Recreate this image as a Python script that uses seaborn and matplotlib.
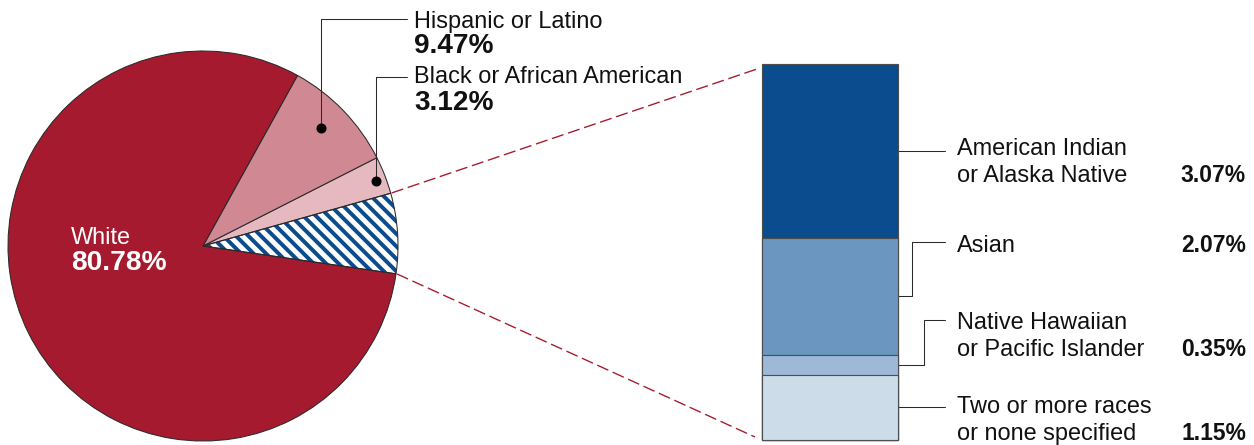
import matplotlib
matplotlib.use("Agg")
import matplotlib.pyplot as plt
from matplotlib.patches import Wedge
import numpy as np
import pandas as pd
import seaborn as sns

# ---------------- data ----------------
main_groups = ["White", "Hispanic or Latino", "Black or African American"]
main_values = [80.78, 9.47, 3.12]
other_groups = ["American Indian\nor Alaska Native", "Asian",
                "Native Hawaiian\nor Pacific Islander", "Two or more races\nor none specified"]
other_values = [3.07, 2.07, 0.35, 1.15]

# ---------------- style ----------------
sns.set_style("white")
plt.rcParams["font.family"] = ["Liberation Sans", "DejaVu Sans"]
plt.rcParams["hatch.linewidth"] = 3.8

W, H, DPI = 1254, 445, 75
CRIMSON = "#A51A2E"
pie_colors = ["#FFFFFF", "#E6B9C0", "#D08893", CRIMSON]   # others, black, hispanic, white
bar_colors = ["#0A4C8E", "#6A96C0", "#9DB9D6", "#CCDCE9"]
HATCH_BLUE = "#0A4C8E"
TXT = "#111111"
LINE = "#2a2a2a"

def Y(py):
    return H - py

fig = plt.figure(figsize=(W / DPI, H / DPI), dpi=DPI)
ax = fig.add_axes([0, 0, 1, 1])

# ---------------- pie ----------------
others_total = sum(other_values)
pie_vals = [others_total, main_values[2], main_values[1], main_values[0]]
cx, cy, R = 203, Y(246), 195
wedges, _ = ax.pie(pie_vals, colors=pie_colors, startangle=-8.2, counterclock=True,
                   center=(cx, cy), radius=R, frame=True,
                   wedgeprops=dict(edgecolor=LINE, linewidth=1.0))
ax.set_xlim(0, W)
ax.set_ylim(0, H)
ax.axis("off")

w0 = wedges[0]
w0.set_facecolor("white")
w0.set_edgecolor(HATCH_BLUE)
w0.set_linewidth(0)
w0.set_hatch("\\\\")
ax.add_patch(Wedge(w0.center, w0.r, w0.theta1, w0.theta2, fill=False,
                   edgecolor=LINE, linewidth=1.0, zorder=3))

# dashed connectors from the hatched slice to the bar
for th, end in [(w0.theta2, (757, Y(69))), (w0.theta1, (755, Y(437)))]:
    t = np.deg2rad(th)
    sx, sy = cx + (R + 1) * np.cos(t), cy + (R + 1) * np.sin(t)
    ax.plot([sx, end[0]], [sy, end[1]], color=CRIMSON, lw=1.3,
            ls=(0, (9, 3.5)), solid_capstyle="butt")

# pie labels
ax.text(71, Y(244), main_groups[0], color="white", fontsize=22.6, va="baseline")
ax.text(71, Y(270), f"{main_values[0]:.2f}%", color="white", fontsize=27,
        fontweight="bold", va="baseline")

left_leaders = [  # dot x, dot y, line y, label baseline, pct baseline
    (321, 128, 19, 28, 53),
    (376, 181, 77, 83, 110),
]
for (dx, dy, ly, lb, pb), name, val in zip(left_leaders, main_groups[1:], main_values[1:]):
    ax.plot([dx, dx, 407], [Y(dy), Y(ly), Y(ly)], color=LINE, lw=1.0)
    ax.plot([dx], [Y(dy)], "o", ms=8.6, color="black")
    ax.text(414, Y(lb), name, color=TXT, fontsize=22.6, va="baseline")
    ax.text(414, Y(pb), f"{val:.2f}%", color=TXT, fontsize=26.9,
            fontweight="bold", va="baseline")

# ---------------- stacked bar ----------------
bx0, bx1, btop, bbot = 762, 898, 64, 440
ax2 = fig.add_axes([bx0 / W, (H - bbot) / H, (bx1 - bx0) / W, (bbot - btop) / H])
tops = [sum(other_values[i:]) for i in range(len(other_values))]
df = pd.DataFrame({"group": other_groups, "top": tops, "pos": ["bar"] * len(tops)})
sns.barplot(data=df, x="pos", y="top", hue="group", hue_order=other_groups,
            palette=bar_colors, dodge=False, width=1, saturation=1,
            edgecolor="#4d4d4d", linewidth=1.1, legend=False, ax=ax2)
ax2.set_xlim(-0.5, 0.5)
ax2.set_ylim(0, others_total)
ax2.axis("off")
for p in ax2.patches:
    p.set_clip_on(False)

# right-hand labels (baseline = last line)
elbow_x = [912, 912, 924, 912]
line_y = [151, 242, 320, 407]
last_base = [182, 252, 356, 440]
for i, (name, val) in enumerate(zip(other_groups, other_values)):
    below = sum(other_values[i + 1:])
    ymid = bbot - (below + val / 2) / others_total * (bbot - btop)
    ax.plot([882, elbow_x[i], elbow_x[i], 945],
            [Y(ymid), Y(ymid), Y(line_y[i]), Y(line_y[i])], color=LINE, lw=1.0, zorder=5)
    ax.text(957, Y(last_base[i]), name, color=TXT, fontsize=22.6, va="baseline",
            linespacing=1.3)
    ax.text(1246, Y(last_base[i]), f"{val:.2f}%", color=TXT, fontsize=22,
            fontweight="bold", va="baseline", ha="right")

fig.savefig("out.png", dpi=DPI)
